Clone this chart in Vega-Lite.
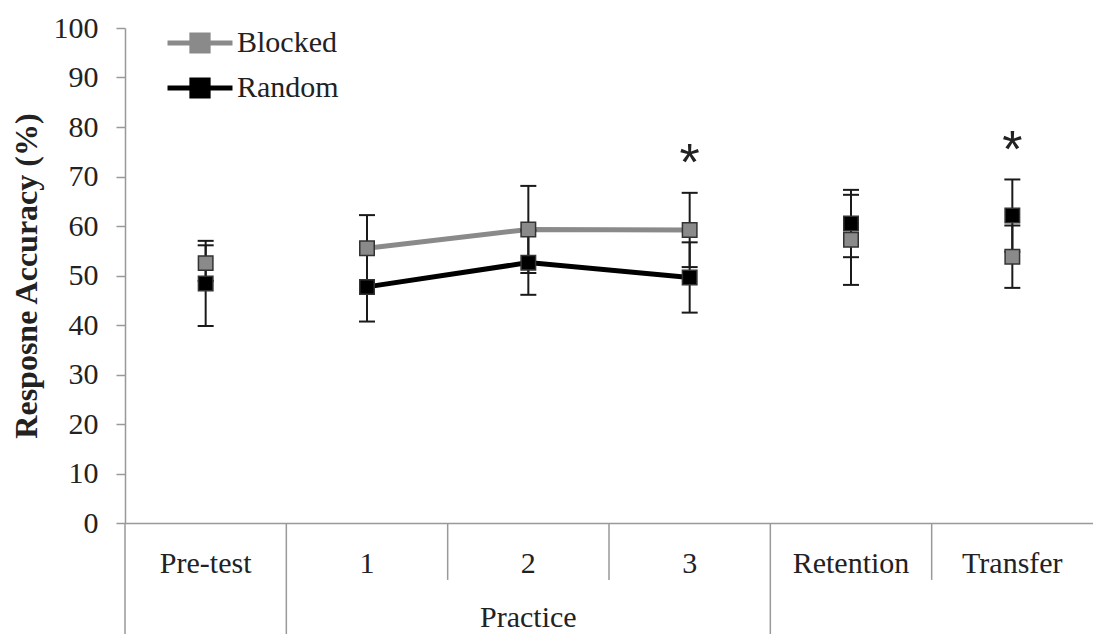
{
  "$schema": "https://vega.github.io/schema/vega-lite/v6.json",
  "width": 968,
  "height": 495,
  "autosize": {"type": "none"},
  "padding": {"left": 125, "top": 28, "right": 0, "bottom": 111},
  "background": "white",
  "config": {"view": {"stroke": null}, "font": "Liberation Serif"},
  "data": {
    "values": [
      {"session": "Pre-test", "phase": "Pre-test", "group": "Blocked", "mean": 52.5, "lo": 48.9, "hi": 56.1},
      {"session": "Pre-test", "phase": "Pre-test", "group": "Random", "mean": 48.4, "lo": 39.8, "hi": 57.0},
      {"session": "1", "phase": "Practice", "group": "Blocked", "mean": 55.5, "lo": 48.8, "hi": 62.2},
      {"session": "1", "phase": "Practice", "group": "Random", "mean": 47.7, "lo": 40.7, "hi": 54.7},
      {"session": "2", "phase": "Practice", "group": "Blocked", "mean": 59.3, "lo": 50.5, "hi": 68.1},
      {"session": "2", "phase": "Practice", "group": "Random", "mean": 52.6, "lo": 46.1, "hi": 59.1},
      {"session": "3", "phase": "Practice", "group": "Blocked", "mean": 59.2, "lo": 51.7, "hi": 66.7},
      {"session": "3", "phase": "Practice", "group": "Random", "mean": 49.6, "lo": 42.5, "hi": 56.7},
      {"session": "Retention", "phase": "Retention", "group": "Blocked", "mean": 57.2, "lo": 48.1, "hi": 66.3},
      {"session": "Retention", "phase": "Retention", "group": "Random", "mean": 60.5, "lo": 53.7, "hi": 67.3},
      {"session": "Transfer", "phase": "Transfer", "group": "Blocked", "mean": 53.8, "lo": 47.5, "hi": 60.1},
      {"session": "Transfer", "phase": "Transfer", "group": "Random", "mean": 62.1, "lo": 54.8, "hi": 69.4}
    ]
  },
  "encoding": {
    "x": {
      "field": "session",
      "type": "nominal",
      "sort": ["Pre-test", "1", "2", "3", "Retention", "Transfer"],
      "scale": {"type": "band", "paddingInner": 0, "paddingOuter": 0},
      "axis": {
        "title": null,
        "ticks": false,
        "domainColor": "#999999",
        "domainWidth": 1.5,
        "labelAngle": 0,
        "labelFont": "Liberation Serif",
        "labelFontSize": 30,
        "labelColor": "#222222",
        "labelPadding": 25
      }
    },
    "y": {
      "field": "mean",
      "type": "quantitative",
      "scale": {"domain": [0, 100], "nice": false},
      "title": "Resposne Accuracy (%)",
      "axis": {
        "values": [0, 10, 20, 30, 40, 50, 60, 70, 80, 90, 100],
        "grid": false,
        "domainColor": "#999999",
        "domainWidth": 1.5,
        "tickColor": "#999999",
        "tickWidth": 1.5,
        "tickSize": 9,
        "labelFont": "Liberation Serif",
        "labelFontSize": 30,
        "labelColor": "#222222",
        "labelPadding": 18,
        "titleFont": "Liberation Serif",
        "titleFontSize": 32,
        "titleFontWeight": "bold",
        "titleColor": "#222222",
        "titlePadding": 10
      }
    }
  },
  "layer": [
    {
      "transform": [{"filter": {"and": [{"field": "group", "equal": "Blocked"}, {"field": "session", "oneOf": ["Pre-test", "1", "Retention"]}]}}],
      "mark": {"type": "rule", "color": "#999999", "strokeWidth": 1.5},
      "encoding": {
        "x": {"field": "session", "type": "nominal", "bandPosition": 0, "sort": ["Pre-test", "1", "2", "3", "Retention", "Transfer"]},
        "y": {"datum": 0},
        "y2": {"datum": -23}
      }
    },
    {
      "transform": [{"filter": {"and": [{"field": "group", "equal": "Blocked"}, {"field": "session", "oneOf": ["2", "3", "Transfer"]}]}}],
      "mark": {"type": "rule", "color": "#999999", "strokeWidth": 1.5},
      "encoding": {
        "x": {"field": "session", "type": "nominal", "bandPosition": 0, "sort": ["Pre-test", "1", "2", "3", "Retention", "Transfer"]},
        "y": {"datum": 0},
        "y2": {"datum": -11.5}
      }
    },
    {
      "transform": [{"filter": {"field": "phase", "equal": "Practice"}}],
      "mark": {"type": "line", "strokeWidth": 5},
      "encoding": {
        "color": {
          "field": "group",
          "type": "nominal",
          "scale": {"domain": ["Blocked", "Random"], "range": ["#8a8a8a", "#000000"]},
          "legend": {
            "title": null,
            "orient": "none",
            "legendX": 56,
            "legendY": -4,
            "padding": 0,
            "symbolType": "M-2,0H2M-0.5,-0.5H0.5V0.5H-0.5Z",
            "symbolSize": 1056,
            "symbolStrokeWidth": 5,
            "labelFont": "Liberation Serif",
            "labelFontSize": 30,
            "labelColor": "#222222",
            "labelOffset": 18,
            "rowPadding": 7
          }
        }
      }
    },
    {
      "mark": {"type": "rule", "color": "#1a1a1a", "strokeWidth": 2},
      "encoding": {
        "y": {"field": "lo", "type": "quantitative"},
        "y2": {"field": "hi"}
      }
    },
    {
      "mark": {"type": "tick", "orient": "horizontal", "size": 16, "thickness": 2, "color": "#1a1a1a", "opacity": 1},
      "encoding": {"y": {"field": "lo", "type": "quantitative"}}
    },
    {
      "mark": {"type": "tick", "orient": "horizontal", "size": 16, "thickness": 2, "color": "#1a1a1a", "opacity": 1},
      "encoding": {"y": {"field": "hi", "type": "quantitative"}}
    },
    {
      "mark": {"type": "point", "shape": "square", "filled": true, "size": 210, "opacity": 1, "stroke": "#333333", "strokeWidth": 1.5},
      "encoding": {
        "color": {"field": "group", "type": "nominal"}
      }
    },
    {
      "data": {"values": [{"session": "3", "label": "*", "level": 74.3}, {"session": "Transfer", "label": "*", "level": 77}]},
      "mark": {"type": "text", "font": "Liberation Sans", "fontSize": 52, "baseline": "middle", "dy": 9, "color": "#222222"},
      "encoding": {
        "y": {"field": "level", "type": "quantitative"},
        "text": {"field": "label"}
      }
    },
    {
      "data": {"values": [{"session": "2", "label": "Practice", "level": -21}]},
      "mark": {"type": "text", "font": "Liberation Serif", "fontSize": 30, "baseline": "alphabetic", "color": "#222222"},
      "encoding": {
        "y": {"field": "level", "type": "quantitative"},
        "text": {"field": "label"}
      }
    }
  ]
}
